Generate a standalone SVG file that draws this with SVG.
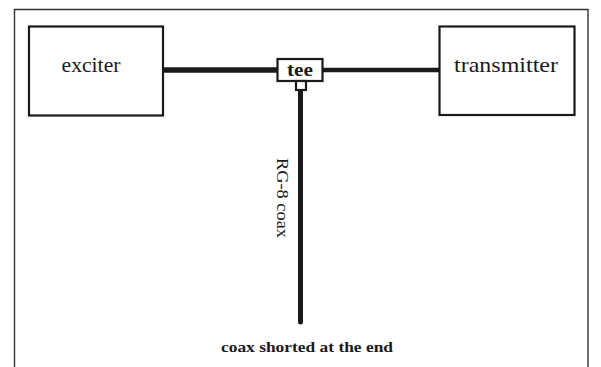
<svg xmlns="http://www.w3.org/2000/svg" width="601" height="367" viewBox="0 0 601 367">
<style>
.box{fill:#fff;stroke:#1a1a1a;stroke-width:2.2}
.lbl{font-family:"Liberation Serif","DejaVu Serif",serif;fill:#1a1a1a;text-anchor:middle}
.wire{stroke:#1a1a1a;fill:none}
.frame{stroke:#333;stroke-width:1.4;fill:none}
</style>
<rect width="601" height="367" fill="#fff"/>
<path class="frame" d="M14.5,367 V9.5 H588 V367"/>
<g id="connectors">
<line class="wire" x1="163" y1="70" x2="278" y2="70" stroke-width="5.5"/>
<line class="wire" x1="323" y1="70" x2="439" y2="70" stroke-width="4.5"/>
<line class="wire" x1="300.5" y1="91" x2="300.5" y2="322" stroke-width="5" stroke-linecap="round"/>
</g>
<g id="exciter">
<rect class="box" x="29" y="26.5" width="134" height="89"/>
<text class="lbl" x="91" y="72" font-size="21" textLength="59" lengthAdjust="spacingAndGlyphs">exciter</text>
</g>
<g id="transmitter">
<rect class="box" x="439.5" y="26.5" width="135" height="88.5"/>
<text class="lbl" x="506" y="72" font-size="21" textLength="104" lengthAdjust="spacingAndGlyphs">transmitter</text>
</g>
<g id="tee">
<rect class="box" x="277.5" y="59" width="45" height="22" stroke-width="1.8"/>
<text class="lbl" x="300" y="76" font-size="19" font-weight="bold" textLength="26" lengthAdjust="spacingAndGlyphs">tee</text>
<rect class="box" x="296" y="81" width="10" height="9" stroke-width="1.6"/>
</g>
<g id="coax-label">
<text class="lbl" transform="translate(277,198) rotate(90)" font-size="16" textLength="80" lengthAdjust="spacingAndGlyphs">RG-8 coax</text>
</g>
<g id="short-label">
<text class="lbl" x="307" y="352" font-size="15" font-weight="bold" textLength="172" lengthAdjust="spacingAndGlyphs">coax shorted at the end</text>
</g>
</svg>
